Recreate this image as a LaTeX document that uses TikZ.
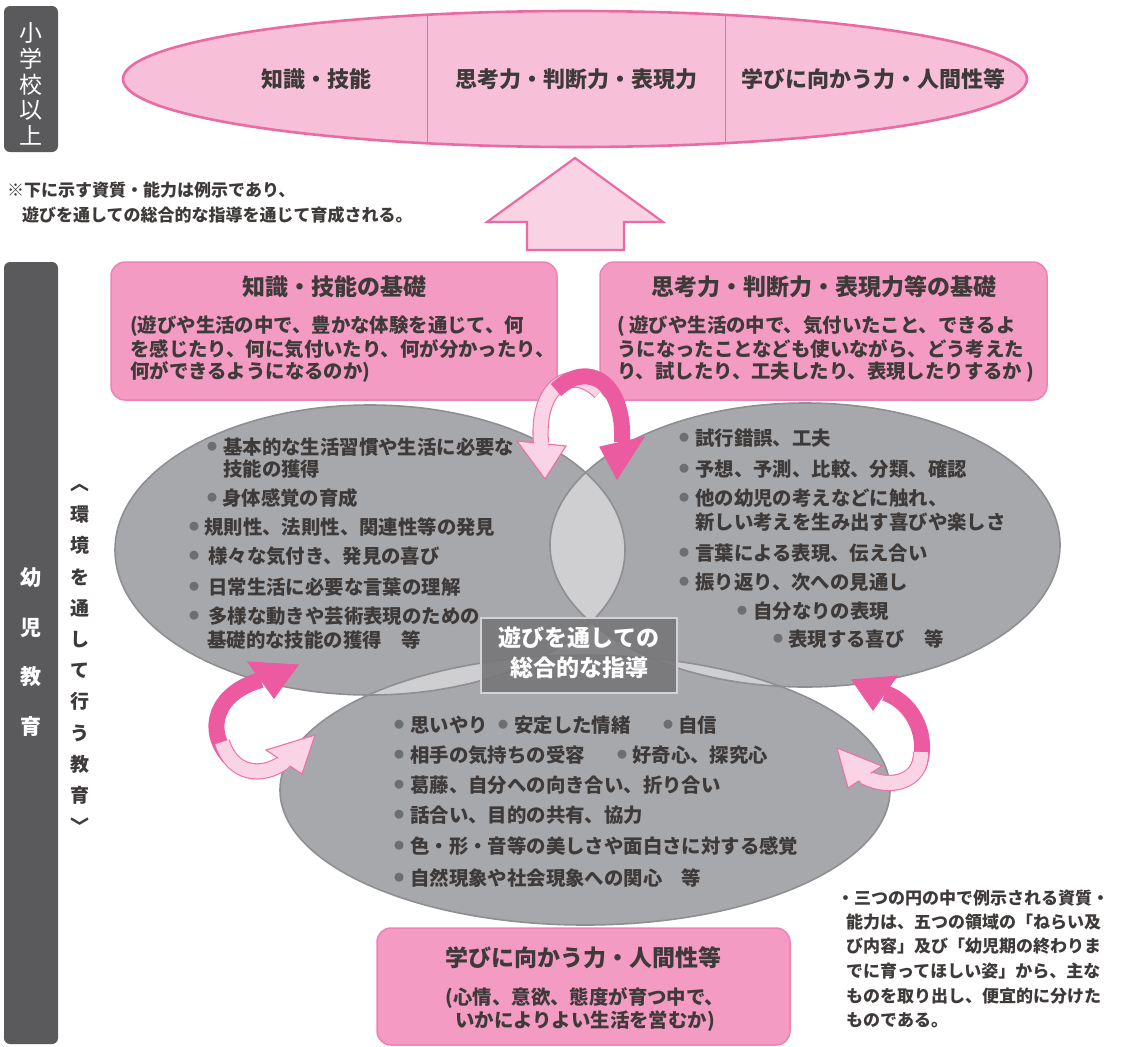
\documentclass[tikz,border=0pt]{standalone}
\usepackage{fontspec}
\newfontfamily\jp{Noto Sans CJK JP}
\usetikzlibrary{calc}
\definecolor{ink}{HTML}{3E3A39}
\definecolor{gbox}{HTML}{5A5A5C}
\definecolor{ellfill}{HTML}{F7C0D8}
\definecolor{ellline}{HTML}{EA6AA3}
\definecolor{boxfill}{HTML}{F39BC2}
\definecolor{boxline}{HTML}{EE82B3}
\definecolor{upfill}{HTML}{F9D3E4}
\definecolor{dkpink}{HTML}{EC5B9F}
\definecolor{ltpink}{HTML}{FAD4E4}
\definecolor{ltline}{HTML}{EE6FA8}
\definecolor{cgray}{HTML}{A7A8AB}
\definecolor{cline}{HTML}{8E8F92}
\definecolor{cover}{HTML}{CFCFD1}
\definecolor{cbox}{HTML}{77777A}
\definecolor{cboxline}{HTML}{D2D2D4}
\definecolor{bulgray}{HTML}{6D6E70}
\tikzset{
  base/.style={inner sep=0pt, text=ink},
  ln/.style={base, anchor=west, font=\jp\bfseries\fontsize{19.4}{19.4}\selectfont},
  bx/.style={base, anchor=west, font=\jp\bfseries\fontsize{19.4}{19.4}\selectfont},
  ttl/.style={base, font=\jp\bfseries\fontsize{23}{23}\selectfont},
  topt/.style={base, font=\jp\bfseries\fontsize{22}{22}\selectfont},
  nt/.style={base, anchor=west, font=\jp\bfseries\fontsize{17}{17}\selectfont},
  bul/.style={inner sep=0pt, text=bulgray, font=\jp\fontsize{10}{10}\selectfont},
  sidebox/.style={fill=gbox, rounded corners=6pt},
  pinkbox/.style={fill=boxfill, draw=boxline, line width=1.5pt, rounded corners=14pt},
  circ/.style={fill=cgray},
  circline/.style={draw=cline, line width=1.6pt},
  lband/.style={draw=ltline, double=ltpink, double distance=14pt, line width=1.1pt},
  dband/.style={draw=dkpink, line width=16pt},
  lhead/.style={fill=ltpink, draw=ltline, line width=1.1pt, line join=miter},
  dhead/.style={fill=dkpink, draw=dkpink, line width=1.1pt},
}
\begin{document}
\begin{tikzpicture}[x=1pt,y=-1pt]
\useasboundingbox (0,0) rectangle (1125,1047);

% side boxes
\fill[sidebox] (4,6) rectangle (58,152);
\node[inner sep=0pt, text=white, align=center, font=\jp\fontsize{23}{25.7}\selectfont] (sho) at (31,84) {小\\学\\校\\以\\上};
\fill[sidebox] (4,262) rectangle (58,1044);
\node[inner sep=0pt, text=white, align=center, font=\jp\bfseries\fontsize{21}{49.5}\selectfont] (yoji) at (31,652) {幼\\児\\教\\育};
\node[inner sep=0pt, text=ink, align=center, font=\jp\bfseries\fontsize{19}{31.2}\selectfont] (kankyo) at (80,659) {︿\\環\\境\\を\\通\\し\\て\\行\\う\\教\\育\\﹀};

% top ellipse
\fill[ellfill] (575,79) ellipse [x radius=452, y radius=68];
\begin{scope}
  \clip (575,79) ellipse [x radius=452, y radius=68];
  \draw[ellline, line width=1pt] (427,0) -- (427,160);
  \draw[ellline, line width=1pt] (725,0) -- (725,160);
\end{scope}
\draw[ellline, line width=2.6pt] (575,79) ellipse [x radius=452, y radius=68];
\node[topt] (t1) at (316,79) {知識・技能};
\node[topt] (t2) at (576,79) {思考力・判断力・表現力};
\node[topt] (t3) at (873,79) {学びに向かう力・人間性等};

% note
\node[nt] (n1) at (7,190) {※下に示す資質・能力は例示であり、};
\node[nt] (n2) at (22,215) {遊びを通しての総合的な指導を通じて育成される。};

% up arrow
\filldraw[fill=upfill, draw=ellline, line width=2.2pt, line join=miter]
  (575,158) -- (663,222) -- (624,222) -- (624,250) -- (527,250) -- (527,222) -- (487,222) -- cycle;

% pink boxes
\draw[pinkbox] (111,262) rectangle (557,400);
\node[ttl] (k1) at (334,287) {知識・技能の基礎};
\node[bx] (k1a) at (130,326) {(遊びや生活の中で、豊かな体験を通じて、何};
\node[bx] (k1b) at (130,349) {を感じたり、何に気付いたり、何が分かったり、};
\node[bx] (k1c) at (130,372) {何ができるようになるのか)};

\draw[pinkbox] (600,262) rectangle (1047,400);
\node[ttl] (k2) at (824,287) {思考力・判断力・表現力等の基礎};
\node[bx] (k2a) at (617,326) {( 遊びや生活の中で、気付いたこと、できるよ};
\node[bx] (k2b) at (617,349) {うになったことなども使いながら、どう考えた};
\node[bx] (k2c) at (617,372) {り、試したり、工夫したり、表現したりするか )};

% three circles
\fill[circ] (370,550) ellipse [x radius=255, y radius=145];
\fill[circ] (805,545) ellipse [x radius=255, y radius=142];
\fill[circ] (585,790) ellipse [x radius=305, y radius=135];
\begin{scope}
  \clip (370,550) ellipse [x radius=255, y radius=145];
  \fill[cover] (805,545) ellipse [x radius=255, y radius=142];
  \fill[cover] (585,790) ellipse [x radius=305, y radius=135];
\end{scope}
\begin{scope}
  \clip (805,545) ellipse [x radius=255, y radius=142];
  \fill[cover] (585,790) ellipse [x radius=305, y radius=135];
\end{scope}
\draw[circline] (370,550) ellipse [x radius=255, y radius=145];
\draw[circline] (805,545) ellipse [x radius=255, y radius=142];
\draw[circline] (585,790) ellipse [x radius=305, y radius=135];

% left circle text
\node[bul] (b1) at (212,447) {●};
\node[ln] (l1) at (223,447) {基本的な生活習慣や生活に必要な};
\node[ln] (l1b) at (223,469) {技能の獲得};
\node[bul] (b2) at (212,498) {●};
\node[ln] (l2) at (222,498) {身体感覚の育成};
\node[bul] (b3) at (194,527) {●};
\node[ln] (l3) at (204,527) {規則性、法則性、関連性等の発見};
\node[bul] (b4) at (194,556) {●};
\node[ln] (l4) at (208,556) {様々な気付き、発見の喜び};
\node[bul] (b5) at (194,587) {●};
\node[ln] (l5) at (208,587) {日常生活に必要な言葉の理解};
\node[bul] (b6) at (194,616) {●};
\node[ln] (l6) at (208,616) {多様な動きや芸術表現のための};
\node[ln] (l6b) at (207,640) {基礎的な技能の獲得　等};

% right circle text
\node[bul] (r1b) at (684,438) {●};
\node[ln] (r1) at (695,438) {試行錯誤、工夫};
\node[bul] (r2b) at (684,469) {●};
\node[ln] (r2) at (695,469) {予想、予測、比較、分類、確認};
\node[bul] (r3b) at (684,498) {●};
\node[ln] (r3) at (695,498) {他の幼児の考えなどに触れ、};
\node[ln] (r3c) at (695,522) {新しい考えを生み出す喜びや楽しさ};
\node[bul] (r4b) at (684,553) {●};
\node[ln] (r4) at (695,553) {言葉による表現、伝え合い};
\node[bul] (r5b) at (684,582) {●};
\node[ln] (r5) at (695,582) {振り返り、次への見通し};
\node[bul] (r6b) at (742,611) {●};
\node[ln] (r6) at (753,611) {自分なりの表現};
\node[bul] (r7b) at (778,639) {●};
\node[ln] (r7) at (788,639) {表現する喜び　等};

% bottom circle text
\node[bul] (m1b) at (399,725) {●};
\node[ln] (m1) at (410,725) {思いやり};
\node[bul] (m2b) at (503,725) {●};
\node[ln] (m2) at (514,725) {安定した情緒};
\node[bul] (m3b) at (668,725) {●};
\node[ln] (m3) at (678,725) {自信};
\node[bul] (m4b) at (399,755) {●};
\node[ln] (m4) at (410,755) {相手の気持ちの受容};
\node[bul] (m5b) at (622,755) {●};
\node[ln] (m5) at (632,755) {好奇心、探究心};
\node[bul] (m6b) at (399,785) {●};
\node[ln] (m6) at (410,785) {葛藤、自分への向き合い、折り合い};
\node[bul] (m7b) at (399,815) {●};
\node[ln] (m7) at (410,815) {話合い、目的の共有、協力};
\node[bul] (m8b) at (399,846) {●};
\node[ln] (m8) at (410,846) {色・形・音等の美しさや面白さに対する感覚};
\node[bul] (m9b) at (399,878) {●};
\node[ln] (m9) at (410,878) {自然現象や社会現象への関心　等};

% centre box
\filldraw[fill=cbox, fill opacity=0.9, draw=cboxline, line width=1.5pt] (481,618) rectangle (677,693);
\node[inner sep=0pt, text=white, align=center, font=\jp\bfseries\fontsize{23}{30}\selectfont] (center) at (579,653) {遊びを通しての\\総合的な指導};

% bottom box
\draw[pinkbox] (377,928) rectangle (790,1045);
\node[ttl] (k3) at (583,958) {学びに向かう力・人間性等};
\node[base, align=center, font=\jp\bfseries\fontsize{19.4}{23}\selectfont] (k3a) at (585,1009) {(心情、意欲、態度が育つ中で、\\いかによりよい生活を営むか)};

% curved arrows: top pair
\coordinate (lA0) at (600,392);
\coordinate (lAb) at (541,443);
\coordinate (lAt) at (545,479);
\draw[lband] (lA0) .. controls (572,364) and (536,385) .. (lAb);
\filldraw[lhead] (517,441) -- (lAt) -- (566,446) -- cycle;
\draw[line width=13pt, ltpink] ($(lAb)!-3pt!(lAt)$) -- ($(lAb)!3pt!(lAt)$);

\coordinate (dA0) at (556,390);
\coordinate (dAb) at (622,442);
\coordinate (dAt) at (617,479);
\draw[dband] (dA0) .. controls (590,358) and (625,385) .. (dAb);
\filldraw[dhead] (600,447) -- (dAt) -- (644,437) -- cycle;

% left pair
\coordinate (dL0) at (229,757);
\coordinate (dLb) at (261,680);
\coordinate (dLt) at (298,665);
\draw[dband] (dL0) .. controls (205,730) and (215,693) .. (dLb);
\filldraw[dhead] (248,662) -- (dLt) -- (274,698) -- cycle;

\coordinate (lL0) at (222,742);
\coordinate (lLb) at (284,762);
\coordinate (lLt) at (315,735);
\draw[lband] (lL0) .. controls (232,775) and (262,778) .. (lLb);
\filldraw[lhead] (266,750) -- (lLt) -- (302,774) -- cycle;
\draw[line width=13pt, ltpink] ($(lLb)!-3pt!(lLt)$) -- ($(lLb)!3pt!(lLt)$);

% right pair
\coordinate (dR0) at (918,768);
\coordinate (dRb) at (885,693);
\coordinate (dRt) at (852,680);
\draw[dband] (dR0) .. controls (930,740) and (915,703) .. (dRb);
\filldraw[dhead] (873,710) -- (dRt) -- (897,676) -- cycle;

\coordinate (lR0) at (921,752);
\coordinate (lRb) at (865,777);
\coordinate (lRt) at (837,748);
\draw[lband] (lR0) .. controls (922,782) and (890,790) .. (lRb);
\filldraw[lhead] (882,766) -- (lRt) -- (848,788) -- cycle;
\draw[line width=13pt, ltpink] ($(lRb)!-3pt!(lRt)$) -- ($(lRb)!3pt!(lRt)$);

% bottom-right note
\node[nt] (q1) at (837,898) {・三つの円の中で例示される資質・};
\node[nt] (q2) at (846,922) {能力は、五つの領域の「ねらい及};
\node[nt] (q3) at (846,946) {び内容」及び「幼児期の終わりま};
\node[nt] (q4) at (846,971) {でに育ってほしい姿」から、主な};
\node[nt] (q5) at (846,996) {ものを取り出し、便宜的に分けた};
\node[nt] (q6) at (846,1020) {ものである。};
\end{tikzpicture}
\end{document}
